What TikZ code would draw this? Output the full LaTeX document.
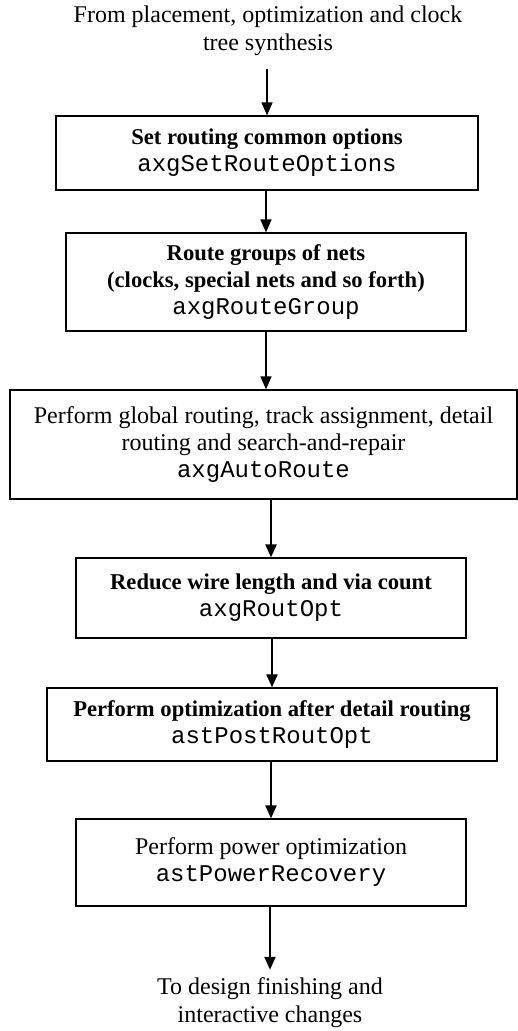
\documentclass[tikz,border=0pt]{standalone}
\usepackage{fontspec}
\setmainfont{Liberation Serif}
\setmonofont{Liberation Mono}
\usepackage{tikz}
\usetikzlibrary{arrows.meta}
\newcommand{\cmdname}[1]{{\ttfamily\fontsize{24}{27}\selectfont #1}}
\newcommand{\steptitle}[1]{{\bfseries\fontsize{22.6}{27}\selectfont #1}}

\begin{document}
\begin{tikzpicture}[x=1pt, y=-1pt,
    stepbox/.style={draw, line width=1.2pt, align=center, inner sep=0pt,
                    font=\fontsize{24}{27}\selectfont},
    note/.style={align=center, inner sep=0pt, font=\fontsize{24}{28}\selectfont},
    flow/.style={-{Triangle[length=13pt,width=11pt]}, line width=1.4pt},
    heavyflow/.style={flow, line width=2.2pt}]
  \useasboundingbox (0,0) rectangle (518,1031);

  \node[note] (src) at (268,31) {From placement, optimization and clock\\tree synthesis};
  \node[stepbox, minimum width=422pt, minimum height=74pt] (opts) at (267,153)
    {\steptitle{Set routing common options}\\\cmdname{axgSetRouteOptions}};
  \node[stepbox, minimum width=400pt, minimum height=98pt] (groups) at (266,282)
    {\steptitle{Route groups of nets}\\\steptitle{(clocks, special nets and so forth)}\\\cmdname{axgRouteGroup}};
  \node[stepbox, minimum width=507pt, minimum height=109pt] (auto) at (263.5,444.5)
    {Perform global routing, track assignment, detail\\routing and search-and-repair\\\cmdname{axgAutoRoute}};
  \node[stepbox, minimum width=390pt, minimum height=80pt] (ropt) at (271,598)
    {\steptitle{Reduce wire length and via count}\\\cmdname{axgRoutOpt}};
  \node[stepbox, minimum width=450pt, minimum height=73pt] (post) at (272,724.5)
    {\steptitle{Perform optimization after detail routing}\\\cmdname{astPostRoutOpt}};
  \node[stepbox, minimum width=390pt, minimum height=87pt] (power) at (271,862.5)
    {Perform power optimization\\\cmdname{astPowerRecovery}};
  \node[note] (sink) at (270,1003) {To design finishing and\\interactive changes};

  % arrows run straight down between the boxes
  \draw[flow, shorten <=13pt] (opts.north |- src.south) -- (opts.north);
  \draw[flow] (groups.north |- opts.south) -- (groups.north);
  \draw[flow] (groups.south) -- (groups.south |- auto.north);
  \draw[heavyflow] (ropt.north |- auto.south) -- (ropt.north);
  \draw[heavyflow] (post.north |- ropt.south) -- (post.north);
  \draw[heavyflow] (power.north |- post.south) -- (power.north);
  \draw[heavyflow, shorten >=8pt] (sink.north |- power.south) -- (sink.north);
\end{tikzpicture}
\end{document}
